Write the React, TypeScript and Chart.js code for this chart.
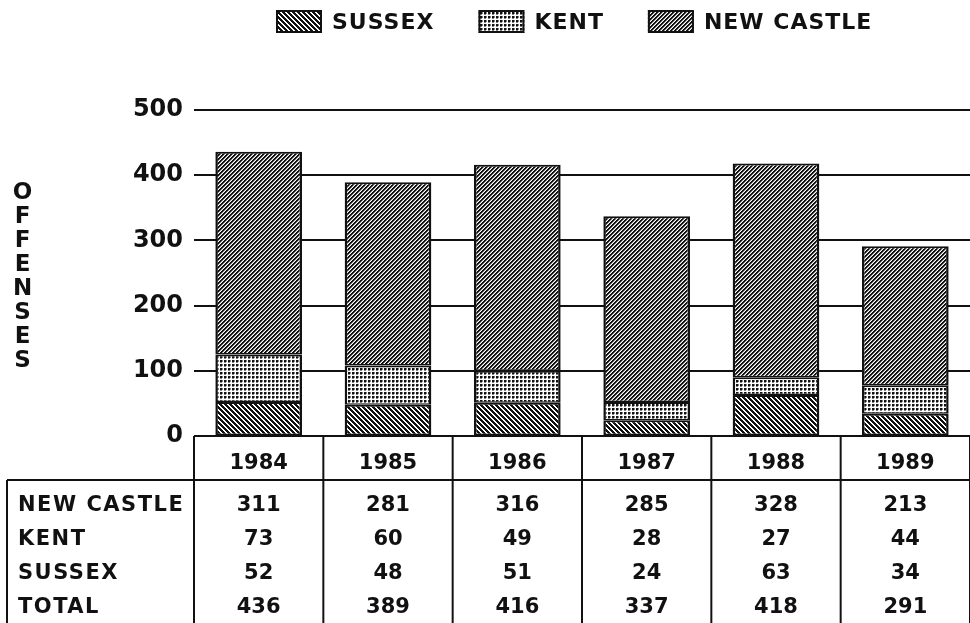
import React, { useEffect, useRef } from 'react';
import { Chart, registerables } from 'chart.js';

Chart.register(...registerables);

const years = ['1984', '1985', '1986', '1987', '1988', '1989'];
const sussexValues = [52, 48, 51, 24, 63, 34];
const kentValues = [73, 60, 49, 28, 27, 44];
const newCastleValues = [311, 281, 316, 285, 328, 213];
const totalValues = [436, 389, 416, 337, 418, 291];
const seriesNames = ['SUSSEX', 'KENT', 'NEW CASTLE'];
const tableRowNames = ['NEW CASTLE', 'KENT', 'SUSSEX', 'TOTAL'];
const yAxisTitle = 'OFFENSES';
const yMax = 500;
const yStep = 100;

const FONT = "'DejaVu Sans', 'Liberation Sans', sans-serif";
const INK = '#111111';

type Kind = 'back' | 'dots' | 'fwd';

function makePattern(kind: Kind): CanvasPattern | string {
  const size = kind === 'back' ? 5 : 4;
  const c = document.createElement('canvas');
  c.width = size;
  c.height = size;
  const ctx = c.getContext('2d');
  if (!ctx) return '#888888';
  const img = ctx.createImageData(size, size);
  for (let y = 0; y < size; y++) {
    for (let x = 0; x < size; x++) {
      let v = 255;
      if (kind === 'back') {
        const d = (((x - y) % size) + size) % size;
        v = d < 3 ? 17 : 255;
      } else if (kind === 'fwd') {
        const d = (x + y) % size;
        v = d < 2 ? 17 : d === 2 ? 150 : 255;
      } else {
        const a = x % 4;
        const b = y % 4;
        if (a < 2 && b < 2) v = 17;
        else if ((a === 2 && b < 2) || (b === 2 && a < 2)) v = 130;
        else v = 255;
      }
      const i = (y * size + x) * 4;
      img.data[i] = v;
      img.data[i + 1] = v;
      img.data[i + 2] = v;
      img.data[i + 3] = 255;
    }
  }
  ctx.putImageData(img, 0, 0);
  return ctx.createPattern(c, 'repeat') || '#888888';
}

function line(ctx: CanvasRenderingContext2D, x1: number, y1: number, x2: number, y2: number) {
  ctx.beginPath();
  ctx.moveTo(x1, y1);
  ctx.lineTo(x2, y2);
  ctx.stroke();
}

const tablePlugin = {
  id: 'dataTable',
  afterDraw(chart: any) {
    const xs = chart.scales.x;
    const { ctx, chartArea } = chart;
    const n = years.length;
    const colW = (xs.right - xs.left) / n;
    const top = chartArea.bottom;
    const headerBottom = top + 44;
    const H = chart.height;
    ctx.save();
    ctx.strokeStyle = INK;
    ctx.lineWidth = 2;
    line(ctx, 7, headerBottom, chart.width, headerBottom);
    line(ctx, 7, headerBottom, 7, H);
    for (let k = 0; k <= n; k++) {
      const x = xs.left + k * colW;
      line(ctx, x, top, x, H);
    }
    const rows = [newCastleValues, kentValues, sussexValues, totalValues];
    ctx.fillStyle = INK;
    ctx.textBaseline = 'middle';
    rows.forEach((vals, r) => {
      const y = headerBottom + 26 + r * 33.8;
      ctx.font = `bold 21px ${FONT}`;
      (ctx as any).letterSpacing = '1.5px';
      ctx.textAlign = 'left';
      ctx.fillText(tableRowNames[r], 18, y);
      (ctx as any).letterSpacing = '0px';
      ctx.textAlign = 'center';
      vals.forEach((v, i) => {
        ctx.fillText(String(v), xs.getPixelForValue(i), y);
      });
    });
    ctx.restore();
  },
};

const yTitlePlugin = {
  id: 'stackedYTitle',
  afterDraw(chart: any) {
    const { ctx, chartArea } = chart;
    ctx.save();
    ctx.font = `bold 23px ${FONT}`;
    ctx.fillStyle = INK;
    ctx.textAlign = 'center';
    ctx.textBaseline = 'middle';
    const letters = yAxisTitle.split('');
    const pitch = 24;
    const cy = (chartArea.top + chartArea.bottom) / 2 + 4;
    letters.forEach((ch, i) => {
      ctx.fillText(ch, 22.5, cy + (i - (letters.length - 1) / 2) * pitch);
    });
    ctx.restore();
  },
};

const legendPlugin = {
  id: 'patternLegend',
  afterDraw(chart: any) {
    const ctx = chart.ctx;
    ctx.save();
    ctx.font = `bold 22px ${FONT}`;
    (ctx as any).letterSpacing = '1px';
    ctx.textBaseline = 'middle';
    ctx.textAlign = 'left';
    let x = 276;
    const top = 10;
    const boxW = 46;
    const boxH = 23;
    const gap = 10;
    const itemGap = 44;
    chart.data.datasets.forEach((ds: any) => {
      ctx.fillStyle = ds.backgroundColor;
      ctx.fillRect(x, top, boxW, boxH);
      ctx.strokeStyle = INK;
      ctx.lineWidth = 2;
      ctx.strokeRect(x + 1, top + 1, boxW - 2, boxH - 2);
      ctx.fillStyle = INK;
      ctx.fillText(ds.label, x + boxW + gap, top + boxH / 2 + 1.5);
      x += boxW + gap + ctx.measureText(ds.label).width + itemGap;
    });
    ctx.restore();
  },
};

export default function App() {
  const ref = useRef<HTMLCanvasElement | null>(null);

  useEffect(() => {
    const canvas = ref.current;
    if (!canvas) return;
    const chart = new Chart(canvas, {
      type: 'bar',
      data: {
        labels: years,
        datasets: [
          { label: seriesNames[0], data: sussexValues, backgroundColor: makePattern('back') as any },
          { label: seriesNames[1], data: kentValues, backgroundColor: makePattern('dots') as any },
          { label: seriesNames[2], data: newCastleValues, backgroundColor: makePattern('fwd') as any },
        ],
      },
      options: {
        responsive: false,
        animation: false,
        devicePixelRatio: 1,
        layout: { padding: { top: 110, left: 0, right: -3, bottom: 0 } },
        datasets: {
          bar: {
            barPercentage: 0.67,
            categoryPercentage: 1,
            borderColor: INK,
            borderWidth: { left: 2.5, right: 2.5, top: 2, bottom: 1.5 },
            borderSkipped: false,
          },
        } as any,
        plugins: {
          legend: { display: false },
          tooltip: { enabled: false },
          title: { display: false },
        },
        scales: {
          x: {
            stacked: true,
            offset: true,
            grid: { display: false },
            border: { display: false },
            ticks: {
              color: INK,
              font: { family: FONT, size: 21, weight: 'bold' },
              padding: 7,
              maxRotation: 0,
              autoSkip: false,
            },
            afterFit: (s: any) => {
              s.height = 187;
            },
          },
          y: {
            stacked: true,
            min: 0,
            max: yMax,
            ticks: {
              stepSize: yStep,
              color: INK,
              font: { family: FONT, size: 24, weight: 'bold' },
              padding: 11,
            },
            grid: { color: INK, lineWidth: 2, drawTicks: false },
            border: { display: false },
            afterFit: (s: any) => {
              s.width = 194;
            },
          },
        },
      },
      plugins: [tablePlugin, yTitlePlugin, legendPlugin],
    });
    return () => chart.destroy();
  }, []);

  return (
    <div style={{ position: 'absolute', left: 0, top: 0, width: 970, height: 623, background: '#fff' }}>
      <canvas ref={ref} width={970} height={623} style={{ width: 970, height: 623, display: 'block' }} />
    </div>
  );
}
